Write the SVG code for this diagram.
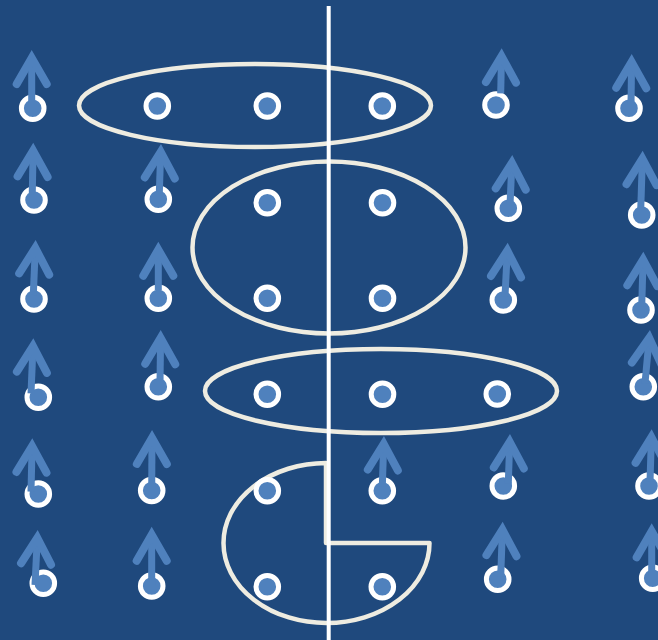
<svg xmlns="http://www.w3.org/2000/svg" width="658" height="640" viewBox="0 0 658 640">
<defs>
<style>
.bg{fill:#1F497D}
.grp{fill:none;stroke:#EEECE1;stroke-width:4.5;stroke-linejoin:round}
.dot{fill:#4F81BD;stroke:#FFFFFF;stroke-width:5}
.axis{stroke:#FFFFFF;stroke-width:4}
.vec{stroke:#4F81BD;stroke-width:7;fill:none;marker-end:url(#ah)}
</style>
<marker id="ah" markerUnits="userSpaceOnUse" orient="auto" markerWidth="60" markerHeight="60" viewBox="-40 -30 60 60" refX="0" refY="0" overflow="visible">
<path d="M-26,-15 L0,0 L-26,15" fill="none" stroke="#4F81BD" stroke-width="8" stroke-linecap="round" stroke-linejoin="miter" stroke-miterlimit="10"/>
</marker>
</defs>
<rect class="bg" x="0" y="0" width="658" height="640"/>
<g id="groups">
<g id="group1"><ellipse class="grp" cx="255" cy="105.5" rx="176" ry="41.5"/></g>
<g id="group2"><ellipse class="grp" cx="329" cy="247.5" rx="136.5" ry="86"/></g>
<g id="group3"><ellipse class="grp" cx="381" cy="391" rx="176" ry="42"/></g>
<g id="group4"><path class="grp" d="M326,543 V463 A103,80 0 1 0 429.5,543 Z"/></g>
</g>
<g id="axis"><line class="axis" x1="328.7" y1="6" x2="328.7" y2="640"/></g>
<g id="nodes">
<g id="n11"><circle class="dot" cx="32.7" cy="108.3" r="11.3"/></g>
<g id="n12"><circle class="dot" cx="34" cy="200" r="11.3"/></g>
<g id="n13"><circle class="dot" cx="34" cy="299" r="11.3"/></g>
<g id="n14"><circle class="dot" cx="38.3" cy="397.3" r="11.3"/></g>
<g id="n15"><circle class="dot" cx="38.3" cy="494" r="11.3"/></g>
<g id="n16"><circle class="dot" cx="43.3" cy="583.3" r="11.3"/></g>
<g id="n21"><circle class="dot" cx="157.3" cy="106" r="11.3"/></g>
<g id="n22"><circle class="dot" cx="158.3" cy="199.3" r="11.3"/></g>
<g id="n23"><circle class="dot" cx="158.3" cy="298.3" r="11.3"/></g>
<g id="n24"><circle class="dot" cx="158.3" cy="386.7" r="11.3"/></g>
<g id="n25"><circle class="dot" cx="151.7" cy="490.5" r="11.3"/></g>
<g id="n26"><circle class="dot" cx="151.7" cy="586" r="11.3"/></g>
<g id="n31"><circle class="dot" cx="267.3" cy="106" r="11.3"/></g>
<g id="n32"><circle class="dot" cx="267.3" cy="202.7" r="11.3"/></g>
<g id="n33"><circle class="dot" cx="267.3" cy="298.3" r="11.3"/></g>
<g id="n34"><circle class="dot" cx="267.3" cy="394.3" r="11.3"/></g>
<g id="n35"><circle class="dot" cx="267.3" cy="490.7" r="11.3"/></g>
<g id="n36"><circle class="dot" cx="267.3" cy="586.7" r="11.3"/></g>
<g id="n41"><circle class="dot" cx="382.3" cy="106" r="11.3"/></g>
<g id="n42"><circle class="dot" cx="382.5" cy="202.7" r="11.3"/></g>
<g id="n43"><circle class="dot" cx="382.5" cy="298.3" r="11.3"/></g>
<g id="n44"><circle class="dot" cx="382.5" cy="394.3" r="11.3"/></g>
<g id="n45"><circle class="dot" cx="382.3" cy="490.7" r="11.3"/></g>
<g id="n46"><circle class="dot" cx="382.3" cy="586.7" r="11.3"/></g>
<g id="n51"><circle class="dot" cx="496" cy="105" r="11.3"/></g>
<g id="n52"><circle class="dot" cx="508.3" cy="208.3" r="11.3"/></g>
<g id="n53"><circle class="dot" cx="503.3" cy="300" r="11.3"/></g>
<g id="n54"><circle class="dot" cx="497.3" cy="394" r="11.3"/></g>
<g id="n55"><circle class="dot" cx="503.3" cy="486" r="11.3"/></g>
<g id="n56"><circle class="dot" cx="497.7" cy="579.3" r="11.3"/></g>
<g id="n61"><circle class="dot" cx="629" cy="108.3" r="11.3"/></g>
<g id="n62"><circle class="dot" cx="641.7" cy="215" r="11.3"/></g>
<g id="n63"><circle class="dot" cx="641" cy="310" r="11.3"/></g>
<g id="n64"><circle class="dot" cx="643.3" cy="386.7" r="11.3"/></g>
<g id="n65"><circle class="dot" cx="649" cy="486" r="11.3"/></g>
<g id="n66"><circle class="dot" cx="652.7" cy="578.3" r="11.3"/></g>
</g>
<g id="connectors">
<line class="vec" x1="31.7" y1="103" x2="31.7" y2="58"/>
<line class="vec" x1="32.3" y1="193" x2="33.1" y2="150.7"/>
<line class="vec" x1="33.3" y1="295" x2="35.3" y2="248"/>
<line class="vec" x1="31" y1="393.3" x2="33" y2="346.3"/>
<line class="vec" x1="31" y1="491.7" x2="32.1" y2="446.3"/>
<line class="vec" x1="35" y1="585" x2="37.3" y2="538"/>
<line class="vec" x1="159.3" y1="193" x2="160.7" y2="152"/>
<line class="vec" x1="158.3" y1="290" x2="158.3" y2="249.7"/>
<line class="vec" x1="160" y1="383" x2="160.6" y2="338"/>
<line class="vec" x1="151.7" y1="488" x2="152" y2="438"/>
<line class="vec" x1="151.7" y1="585" x2="151.7" y2="534.7"/>
<line class="vec" x1="382.3" y1="486.7" x2="383.7" y2="444"/>
<line class="vec" x1="500.7" y1="93.3" x2="501.5" y2="56.3"/>
<line class="vec" x1="510" y1="205" x2="511.9" y2="163"/>
<line class="vec" x1="505" y1="296.7" x2="507.3" y2="250.7"/>
<line class="vec" x1="508.3" y1="483.3" x2="509.7" y2="442"/>
<line class="vec" x1="500.7" y1="576.7" x2="502.4" y2="529.7"/>
<line class="vec" x1="631" y1="105" x2="631.6" y2="62"/>
<line class="vec" x1="640.7" y1="210" x2="642.4" y2="158.7"/>
<line class="vec" x1="641.7" y1="306.7" x2="643.1" y2="259.7"/>
<line class="vec" x1="645" y1="383.3" x2="649.2" y2="338"/>
<line class="vec" x1="650" y1="481.7" x2="651.4" y2="437.3"/>
<line class="vec" x1="651.7" y1="576.7" x2="651.7" y2="531.3"/>
</g>
</svg>
